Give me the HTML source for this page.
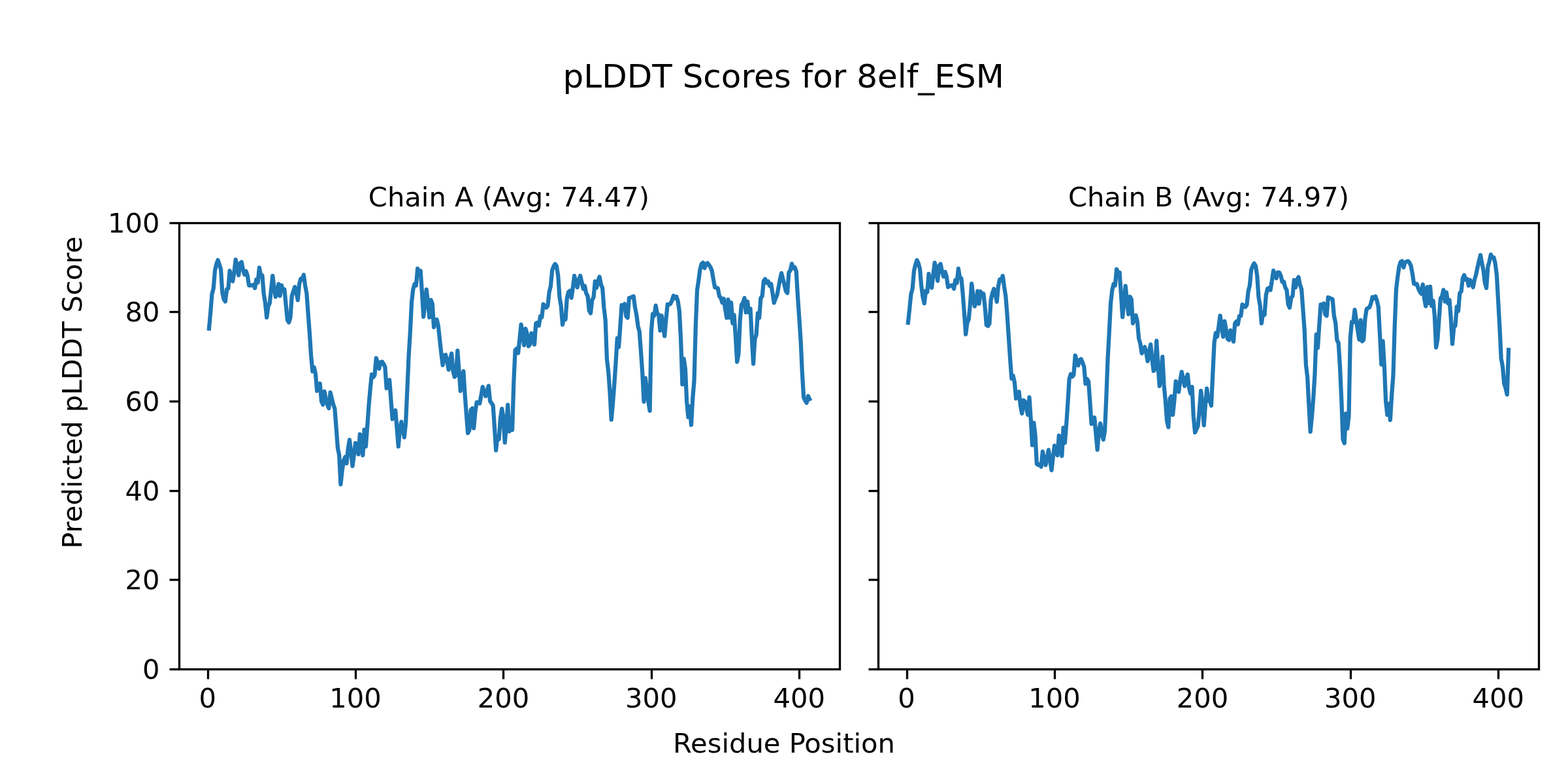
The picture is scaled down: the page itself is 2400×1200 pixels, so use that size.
<!DOCTYPE html>
<html lang="en">
<head>
<meta charset="utf-8">
<title>pLDDT Scores for 8elf_ESM</title>
<style>
html,body{margin:0;padding:0;background:#ffffff;}
body{width:2400px;height:1200px;overflow:hidden;}
svg{display:block;}
text{font-family:"DejaVu Sans","Liberation Sans",sans-serif;fill:#000000;}
.tick{font-size:41.667px;}
.lab{font-size:41.667px;}
.ttl{font-size:41.667px;}
.sup{font-size:50.000px;}
.spine{fill:none;stroke:#000000;stroke-width:3.333;stroke-linejoin:miter;}
.tk{stroke:#000000;stroke-width:3.333;stroke-linecap:butt;fill:none;}
.curve{fill:none;stroke:#1f77b4;stroke-width:6.25;stroke-linejoin:round;stroke-linecap:square;}
</style>
</head>
<body>
<svg width="2400" height="1200" viewBox="0 0 2400 1200" role="img" aria-label="pLDDT Scores for 8elf_ESM">
<rect x="0" y="0" width="2400" height="1200" fill="#ffffff"/>
<defs>
<clipPath id="clipA"><rect x="274" y="340.8" width="1011.06" height="683.03"/></clipPath>
<clipPath id="clipB"><rect x="1343.94" y="340.8" width="1011.06" height="683.03"/></clipPath>
</defs>
<text class="sup" x="1199.2" y="134.0" text-anchor="middle">pLDDT Scores for 8elf_ESM</text>
<g id="axesA">
<text class="ttl" x="778.9" y="316.0" text-anchor="middle">Chain A (Avg: 74.47)</text>
<polyline class="curve" clip-path="url(#clipA)" points="319.96,502.90 322.22,478.00 324.49,450.00 326.75,441.50 329.01,414.00 331.28,404.00 333.54,398.10 335.80,405.00 338.07,412.50 340.33,448.00 342.60,458.00 344.86,461.40 347.12,442.80 349.39,441.50 351.65,414.30 353.92,428.00 356.18,430.40 358.44,417.00 360.71,397.30 362.97,408.00 365.24,421.40 367.50,403.00 369.76,401.10 372.03,413.00 374.29,420.40 376.55,415.10 378.82,422.00 381.08,436.90 383.35,437.00 385.61,436.50 387.87,436.00 390.14,440.90 392.40,427.60 394.67,432.40 396.93,409.60 399.19,422.50 401.46,421.60 403.72,450.00 405.99,463.50 408.25,485.90 410.51,469.00 412.78,464.00 415.04,443.00 417.31,422.10 419.57,440.00 421.83,454.40 424.10,450.00 426.36,434.60 428.62,452.90 430.89,436.60 433.15,445.00 435.42,443.10 437.68,467.00 439.94,490.00 442.21,493.40 444.47,486.00 446.74,453.00 449.00,446.00 451.26,439.10 453.53,448.00 455.79,459.40 458.06,435.00 460.32,426.60 462.58,427.80 464.85,420.60 467.11,437.00 469.38,449.20 471.64,480.00 473.90,510.00 476.17,545.00 478.43,568.40 480.69,562.10 482.96,572.00 485.22,598.40 487.49,593.00 489.75,587.10 492.01,614.00 494.28,619.40 496.54,599.10 498.81,611.00 501.07,619.50 503.33,624.90 505.60,600.60 507.86,610.00 510.13,619.00 512.39,625.50 514.65,654.70 516.92,685.50 519.18,696.50 521.44,741.40 523.71,720.00 525.97,705.00 528.24,699.60 530.50,709.40 532.76,686.50 535.03,673.10 537.29,693.00 539.56,713.40 541.82,696.00 544.08,678.10 546.35,682.00 548.61,695.40 550.88,664.60 553.14,673.00 555.40,696.90 557.67,657.60 559.93,683.40 562.20,653.00 564.46,621.00 566.72,595.00 568.99,573.10 571.25,577.50 573.51,574.00 575.78,548.10 578.04,554.50 580.31,564.40 582.57,554.50 584.83,553.60 587.10,557.00 589.36,561.50 591.63,594.40 593.89,584.00 596.15,581.60 598.42,612.00 600.68,641.40 602.95,631.00 605.21,628.10 607.47,655.00 609.74,683.40 612.00,657.00 614.26,645.60 616.53,657.00 618.79,669.40 621.06,648.00 623.32,597.00 625.58,545.00 627.85,508.00 630.11,462.00 632.38,442.50 634.64,434.60 636.90,436.90 639.17,411.10 641.43,415.50 643.70,414.60 645.96,448.00 648.22,484.90 650.49,464.00 652.75,443.10 655.02,464.00 657.28,485.90 659.54,459.10 661.81,465.00 664.07,500.90 666.33,494.00 668.60,489.10 670.86,499.00 673.13,520.00 675.39,541.00 677.65,558.90 679.92,544.00 682.18,543.10 684.45,554.00 686.71,565.90 688.97,550.00 691.24,541.10 693.50,568.00 695.77,576.90 698.03,574.00 700.29,536.60 702.56,568.00 704.82,598.40 707.09,580.00 709.35,568.10 711.61,604.00 713.88,634.00 716.14,662.90 718.40,658.50 720.67,627.50 722.93,625.10 725.20,655.40 727.46,630.00 729.72,615.60 731.99,616.10 734.25,617.40 736.52,605.00 738.78,592.10 741.04,600.00 743.31,606.40 745.57,598.00 747.84,590.60 750.10,614.00 752.36,617.00 754.63,620.50 756.89,653.00 759.15,689.40 761.42,668.00 763.68,672.40 765.95,640.00 768.21,625.60 770.47,640.00 772.74,677.40 775.00,650.00 777.27,619.60 779.53,660.40 781.79,656.50 784.06,658.00 786.32,585.00 788.59,536.00 790.85,533.60 793.11,540.40 795.38,519.00 797.64,496.60 799.91,513.00 802.17,528.40 804.43,503.10 806.70,511.00 808.96,529.90 811.22,527.00 813.49,510.10 815.75,513.50 818.02,527.40 820.28,495.00 822.54,493.80 824.81,498.40 827.07,484.00 829.34,485.50 831.60,465.60 833.86,468.50 836.13,470.90 838.39,468.00 840.66,447.00 842.92,438.00 845.18,413.50 847.45,407.50 849.71,404.10 851.97,407.50 854.24,422.00 856.50,455.00 858.77,468.50 861.03,496.90 863.29,486.00 865.56,488.90 867.82,456.00 870.09,447.00 872.35,445.10 874.61,455.90 876.88,440.00 879.14,422.10 881.41,432.00 883.67,439.90 885.93,428.00 888.20,422.10 890.46,432.00 892.73,442.00 894.99,437.50 897.25,449.00 899.52,453.00 901.78,475.50 904.04,479.40 906.31,459.00 908.57,455.00 910.84,430.60 913.10,440.40 915.36,430.00 917.63,423.60 919.89,435.50 922.16,441.00 924.42,471.00 926.68,490.00 928.95,550.00 931.21,569.00 933.48,600.00 935.74,642.40 938.00,618.00 940.27,588.00 942.53,555.00 944.80,517.60 947.06,531.40 949.32,500.00 951.59,467.00 953.85,468.00 956.11,465.10 958.38,484.00 960.64,486.40 962.91,456.00 965.17,455.50 967.43,454.50 969.70,453.60 971.96,470.00 974.23,482.00 976.49,499.00 978.75,507.80 981.02,538.00 983.28,571.00 985.55,614.90 987.81,578.60 990.07,597.00 992.34,614.00 994.60,628.90 996.86,507.00 999.13,480.60 1001.39,483.40 1003.66,467.60 1005.92,480.00 1008.18,481.60 1010.45,505.90 1012.71,483.10 1014.98,500.00 1017.24,514.40 1019.50,488.00 1021.77,465.80 1024.03,466.00 1026.30,464.90 1028.56,460.00 1030.82,452.60 1033.09,456.40 1035.35,454.10 1037.62,461.00 1039.88,476.50 1042.14,520.00 1044.41,588.40 1046.67,549.10 1048.93,565.00 1051.20,615.00 1053.46,638.40 1055.73,622.10 1057.99,650.40 1060.25,610.00 1062.52,583.00 1064.78,500.00 1067.05,444.00 1069.31,429.00 1071.57,412.00 1073.84,403.80 1076.10,402.10 1078.37,410.40 1080.63,404.50 1082.89,402.60 1085.16,405.50 1087.42,409.00 1089.68,414.50 1091.95,428.00 1094.21,440.00 1096.48,440.30 1098.74,441.10 1101.00,453.30 1103.27,456.00 1105.53,463.30 1107.80,457.10 1110.06,473.30 1112.32,486.50 1114.59,458.50 1116.85,486.20 1119.12,463.10 1121.38,494.90 1123.64,482.10 1125.91,515.00 1128.17,553.90 1130.44,542.00 1132.70,490.00 1134.96,466.30 1137.23,463.30 1139.49,456.10 1141.75,478.20 1144.02,461.50 1146.28,478.20 1148.55,472.50 1150.81,517.00 1153.07,556.90 1155.34,519.00 1157.60,512.50 1159.87,479.30 1162.13,486.50 1164.39,456.10 1166.66,453.30 1168.92,430.00 1171.19,427.10 1173.45,433.00 1175.71,430.60 1177.98,437.40 1180.24,434.60 1182.51,448.70 1184.77,463.50 1187.03,456.70 1189.30,452.00 1191.56,440.00 1193.82,428.00 1196.09,418.10 1198.35,427.00 1200.62,436.00 1202.88,445.80 1205.14,448.50 1207.41,417.00 1209.67,414.00 1211.94,403.60 1214.20,410.50 1216.46,409.10 1218.73,415.00 1220.99,453.00 1223.26,486.00 1225.52,520.00 1227.78,568.50 1230.05,608.00 1232.31,613.00 1234.57,616.60 1236.84,606.10 1239.10,610.75"/>
<line class="tk" x1="318.5" y1="1024.5" x2="318.5" y2="1039.5"/>
<text class="tick" x="317.69" y="1082.6" text-anchor="middle">0</text>
<line class="tk" x1="544.5" y1="1024.5" x2="544.5" y2="1039.5"/>
<text class="tick" x="544.08" y="1082.6" text-anchor="middle">100</text>
<line class="tk" x1="770.5" y1="1024.5" x2="770.5" y2="1039.5"/>
<text class="tick" x="770.47" y="1082.6" text-anchor="middle">200</text>
<line class="tk" x1="997.5" y1="1024.5" x2="997.5" y2="1039.5"/>
<text class="tick" x="996.86" y="1082.6" text-anchor="middle">300</text>
<line class="tk" x1="1223.5" y1="1024.5" x2="1223.5" y2="1039.5"/>
<text class="tick" x="1223.26" y="1082.6" text-anchor="middle">400</text>
<line class="tk" x1="259.50" y1="1024.5" x2="274.00" y2="1024.5"/>
<text class="tick" x="244.6" y="1038.83" text-anchor="end">0</text>
<line class="tk" x1="259.50" y1="887.5" x2="274.00" y2="887.5"/>
<text class="tick" x="244.6" y="902.22" text-anchor="end">20</text>
<line class="tk" x1="259.50" y1="751.5" x2="274.00" y2="751.5"/>
<text class="tick" x="244.6" y="765.62" text-anchor="end">40</text>
<line class="tk" x1="259.50" y1="614.5" x2="274.00" y2="614.5"/>
<text class="tick" x="244.6" y="629.01" text-anchor="end">60</text>
<line class="tk" x1="259.50" y1="477.5" x2="274.00" y2="477.5"/>
<text class="tick" x="244.6" y="492.41" text-anchor="end">80</text>
<line class="tk" x1="259.50" y1="341.5" x2="274.00" y2="341.5"/>
<text class="tick" x="244.6" y="355.80" text-anchor="end">100</text>
<rect class="spine" x="274.5" y="341.5" width="1011.0" height="683"/>
</g>
<g id="axesB">
<text class="ttl" x="1850.0" y="316.0" text-anchor="middle">Chain B (Avg: 74.97)</text>
<polyline class="curve" clip-path="url(#clipB)" points="1389.90,493.90 1392.16,473.00 1394.43,450.00 1396.69,442.00 1398.95,415.00 1401.22,405.00 1403.48,398.10 1405.74,403.00 1408.01,411.50 1410.27,438.00 1412.54,455.00 1414.80,464.40 1417.06,445.10 1419.33,447.00 1421.59,419.10 1423.86,437.00 1426.12,440.40 1428.38,421.00 1430.65,402.10 1432.91,415.00 1435.18,429.90 1437.44,406.50 1439.70,404.10 1441.97,416.00 1444.23,423.40 1446.49,416.10 1448.76,423.00 1451.02,439.40 1453.29,438.00 1455.55,437.00 1457.81,436.50 1460.08,441.90 1462.34,428.50 1464.61,433.20 1466.87,411.10 1469.13,425.00 1471.40,426.10 1473.66,449.50 1475.93,479.00 1478.19,511.70 1480.45,494.00 1482.72,489.00 1484.98,465.00 1487.25,434.10 1489.51,453.00 1491.77,468.90 1494.04,462.00 1496.30,445.60 1498.56,464.90 1500.83,446.10 1503.09,453.00 1505.36,449.60 1507.62,470.00 1509.88,497.50 1512.15,498.90 1514.41,495.50 1516.68,459.00 1518.94,449.00 1521.20,442.10 1523.47,450.00 1525.73,461.90 1528.00,438.00 1530.26,427.60 1532.52,429.00 1534.79,422.10 1537.05,439.00 1539.32,453.00 1541.58,481.50 1543.84,515.00 1546.11,549.00 1548.37,579.40 1550.63,575.10 1552.90,585.00 1555.16,609.90 1557.43,605.00 1559.69,599.60 1561.95,621.00 1564.22,632.90 1566.48,612.60 1568.75,614.50 1571.01,626.00 1573.27,634.90 1575.54,608.10 1577.80,642.00 1580.07,681.40 1582.33,647.10 1584.59,666.00 1586.86,710.00 1589.12,711.80 1591.38,710.50 1593.65,714.40 1595.91,691.10 1598.18,705.00 1600.44,711.90 1602.70,700.00 1604.97,688.60 1607.23,705.00 1609.50,719.90 1611.76,700.00 1614.02,682.10 1616.29,686.00 1618.55,696.90 1620.82,666.60 1623.08,675.00 1625.34,697.90 1627.61,654.60 1629.87,677.90 1632.14,650.00 1634.40,617.00 1636.66,580.00 1638.93,572.60 1641.19,576.50 1643.45,573.50 1645.72,544.10 1647.98,552.00 1650.25,559.40 1652.51,551.00 1654.77,549.60 1657.04,555.00 1659.30,561.50 1661.57,587.40 1663.83,580.10 1666.09,584.00 1668.36,615.00 1670.62,648.90 1672.89,642.00 1675.15,639.10 1677.41,664.00 1679.68,688.40 1681.94,660.00 1684.20,648.10 1686.47,663.00 1688.73,672.90 1691.00,660.00 1693.26,610.00 1695.52,550.00 1697.79,508.00 1700.05,464.00 1702.32,444.00 1704.58,434.60 1706.84,436.90 1709.11,412.10 1711.37,417.00 1713.64,417.10 1715.90,450.00 1718.16,485.40 1720.43,462.00 1722.69,437.60 1724.96,460.00 1727.22,480.90 1729.48,454.10 1731.75,458.00 1734.01,494.90 1736.27,489.00 1738.54,482.60 1740.80,492.00 1743.07,518.00 1745.33,526.00 1747.59,540.90 1749.86,534.00 1752.12,531.10 1754.39,540.00 1756.65,552.90 1758.91,538.00 1761.18,527.10 1763.44,550.00 1765.71,567.90 1767.97,565.00 1770.23,521.60 1772.50,560.00 1774.76,590.90 1777.03,570.00 1779.29,546.10 1781.55,589.00 1783.82,613.00 1786.08,644.00 1788.34,653.90 1790.61,610.00 1792.87,606.60 1795.14,634.90 1797.40,613.00 1799.66,583.60 1801.93,590.00 1804.19,599.90 1806.46,582.00 1808.72,569.10 1810.98,580.00 1813.25,590.90 1815.51,580.00 1817.78,573.10 1820.04,594.00 1822.30,602.50 1824.57,592.10 1826.83,638.00 1829.09,661.90 1831.36,657.00 1833.62,652.00 1835.89,627.00 1838.15,598.10 1840.41,618.00 1842.68,650.90 1844.94,620.00 1847.21,594.60 1849.47,613.40 1851.73,613.00 1854.00,620.90 1856.26,573.00 1858.53,525.00 1860.79,509.60 1863.05,515.40 1865.32,500.00 1867.58,483.10 1869.85,500.00 1872.11,515.40 1874.37,491.60 1876.64,504.00 1878.90,518.50 1881.16,520.40 1883.43,505.60 1885.69,513.00 1887.96,522.90 1890.22,495.00 1892.48,492.10 1894.75,496.40 1897.01,483.60 1899.28,483.50 1901.54,466.10 1903.80,468.00 1906.07,469.90 1908.33,467.00 1910.60,446.00 1912.86,437.00 1915.12,413.00 1917.39,407.00 1919.65,403.10 1921.91,407.00 1924.18,422.00 1926.44,455.00 1928.71,468.00 1930.97,494.90 1933.23,478.00 1935.50,481.90 1937.76,452.00 1940.03,442.00 1942.29,440.60 1944.55,443.90 1946.82,430.00 1949.08,414.10 1951.35,421.00 1953.61,425.90 1955.87,417.00 1958.14,417.10 1960.40,422.00 1962.67,431.50 1964.93,431.10 1967.19,440.00 1969.46,444.00 1971.72,466.00 1973.98,470.90 1976.25,456.00 1978.51,453.00 1980.78,428.60 1983.04,439.90 1985.30,428.00 1987.57,424.10 1989.83,436.00 1992.10,442.50 1994.36,473.00 1996.62,504.00 1998.89,558.00 2001.15,577.00 2003.42,620.00 2005.68,660.90 2007.94,638.00 2010.21,610.00 2012.47,573.00 2014.74,512.00 2017.00,532.40 2019.26,498.00 2021.53,466.10 2023.79,467.00 2026.05,464.60 2028.32,481.00 2030.58,483.40 2032.85,455.10 2035.11,456.00 2037.37,457.00 2039.64,458.10 2041.90,483.50 2044.17,494.00 2046.43,520.50 2048.69,525.00 2050.96,561.00 2053.22,610.00 2055.49,672.50 2057.75,678.40 2060.01,633.10 2062.28,655.90 2064.54,637.00 2066.80,517.00 2069.07,492.80 2071.33,493.40 2073.60,474.10 2075.86,490.00 2078.12,505.00 2080.39,519.90 2082.65,490.10 2084.92,522.40 2087.18,520.00 2089.44,488.00 2091.71,473.10 2093.97,471.50 2096.24,470.20 2098.50,464.00 2100.76,454.60 2103.03,457.00 2105.29,453.60 2107.56,460.00 2109.82,470.50 2112.08,513.00 2114.35,557.90 2116.61,522.10 2118.87,560.00 2121.14,614.00 2123.40,634.90 2125.67,618.00 2127.93,642.90 2130.19,605.00 2132.46,575.00 2134.72,500.00 2136.99,443.00 2139.25,424.00 2141.51,408.00 2143.78,401.00 2146.04,399.60 2148.31,409.40 2150.57,401.50 2152.83,400.50 2155.10,399.60 2157.36,402.00 2159.62,407.00 2161.89,419.00 2164.15,434.20 2166.42,435.00 2168.68,434.60 2170.94,441.70 2173.21,446.70 2175.47,449.70 2177.74,435.30 2180.00,456.70 2182.26,468.70 2184.53,439.30 2186.79,464.00 2189.06,438.70 2191.32,468.00 2193.58,460.30 2195.85,483.30 2198.11,531.90 2200.38,519.50 2202.64,488.00 2204.90,456.70 2207.17,453.30 2209.43,443.70 2211.69,461.50 2213.96,447.50 2216.22,464.00 2218.49,459.10 2220.75,486.70 2223.01,526.40 2225.28,501.00 2227.54,498.40 2229.81,469.50 2232.07,476.00 2234.33,448.60 2236.60,446.20 2238.86,426.00 2241.13,421.10 2243.39,428.00 2245.65,427.10 2247.92,437.30 2250.18,428.60 2252.45,434.00 2254.71,439.70 2256.97,428.00 2259.24,420.00 2261.50,409.50 2263.76,399.50 2266.03,390.40 2268.29,402.80 2270.56,414.00 2272.82,433.00 2275.08,440.90 2277.35,408.50 2279.61,400.20 2281.88,389.60 2284.14,394.40 2286.40,394.10 2288.67,403.30 2290.93,421.00 2293.20,461.50 2295.46,502.00 2297.72,549.00 2299.99,561.00 2302.25,587.00 2304.51,594.00 2306.78,603.90 2309.04,535.60"/>
<line class="tk" x1="1388.5" y1="1024.5" x2="1388.5" y2="1039.5"/>
<text class="tick" x="1387.63" y="1082.6" text-anchor="middle">0</text>
<line class="tk" x1="1614.5" y1="1024.5" x2="1614.5" y2="1039.5"/>
<text class="tick" x="1614.02" y="1082.6" text-anchor="middle">100</text>
<line class="tk" x1="1840.5" y1="1024.5" x2="1840.5" y2="1039.5"/>
<text class="tick" x="1840.41" y="1082.6" text-anchor="middle">200</text>
<line class="tk" x1="2067.5" y1="1024.5" x2="2067.5" y2="1039.5"/>
<text class="tick" x="2066.80" y="1082.6" text-anchor="middle">300</text>
<line class="tk" x1="2293.5" y1="1024.5" x2="2293.5" y2="1039.5"/>
<text class="tick" x="2293.20" y="1082.6" text-anchor="middle">400</text>
<line class="tk" x1="1329.50" y1="1024.5" x2="1344.00" y2="1024.5"/>
<line class="tk" x1="1329.50" y1="887.5" x2="1344.00" y2="887.5"/>
<line class="tk" x1="1329.50" y1="751.5" x2="1344.00" y2="751.5"/>
<line class="tk" x1="1329.50" y1="614.5" x2="1344.00" y2="614.5"/>
<line class="tk" x1="1329.50" y1="477.5" x2="1344.00" y2="477.5"/>
<line class="tk" x1="1329.50" y1="341.5" x2="1344.00" y2="341.5"/>
<rect class="spine" x="1344.5" y="341.5" width="1011.0" height="683"/>
</g>
<text class="lab" x="1200" y="1152.0" text-anchor="middle">Residue Position</text>
<text class="lab" transform="translate(125.4,600.8) rotate(-90)" text-anchor="middle">Predicted pLDDT Score</text>
</svg>
</body>
</html>
